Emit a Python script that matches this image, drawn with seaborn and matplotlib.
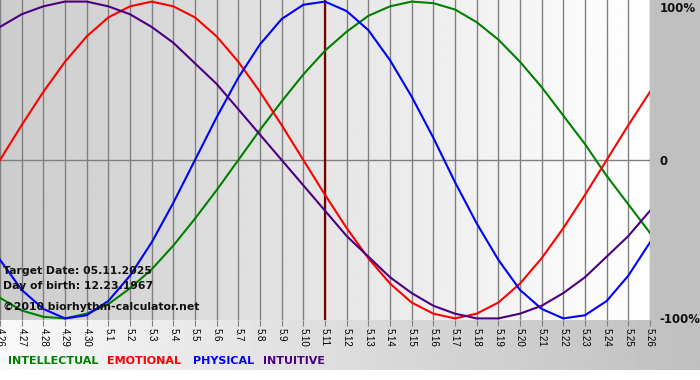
import matplotlib
matplotlib.use("Agg")
import matplotlib.pyplot as plt
import numpy as np
import pandas as pd
import seaborn as sns

# Days shown on the x axis (month.day)
days = ['4.26', '4.27', '4.28', '4.29', '4.30', '5.1', '5.2', '5.3', '5.4', '5.5',
        '5.6', '5.7', '5.8', '5.9', '5.10', '5.11', '5.12', '5.13', '5.14', '5.15',
        '5.16', '5.17', '5.18', '5.19', '5.20', '5.21', '5.22', '5.23', '5.24', '5.25', '5.26']
target_day = '5.11'

# Cycle values per day (-1 .. 1)
intellectual = [-0.87, -0.95, -0.99, -1.00, -0.97, -0.91, -0.81, -0.69, -0.54, -0.37, -0.19,
                0.00, 0.19, 0.37, 0.54, 0.69, 0.81, 0.91, 0.97, 1.00, 0.99, 0.95, 0.87,
                0.76, 0.62, 0.46, 0.28, 0.10, -0.10, -0.28, -0.46]
emotional = [0.00, 0.22, 0.43, 0.62, 0.78, 0.90, 0.97, 1.00, 0.97, 0.90, 0.78, 0.62, 0.43,
             0.22, 0.00, -0.22, -0.43, -0.62, -0.78, -0.90, -0.97, -1.00, -0.97, -0.90,
             -0.78, -0.62, -0.43, -0.22, 0.00, 0.22, 0.43]
physical = [-0.63, -0.82, -0.94, -1.00, -0.98, -0.89, -0.73, -0.52, -0.27, 0.00, 0.27, 0.52,
            0.73, 0.89, 0.98, 1.00, 0.94, 0.82, 0.63, 0.40, 0.14, -0.14, -0.40, -0.63,
            -0.82, -0.94, -1.00, -0.98, -0.89, -0.73, -0.52]
intuitive = [0.84, 0.92, 0.97, 1.00, 1.00, 0.97, 0.92, 0.84, 0.74, 0.61, 0.48, 0.32, 0.16,
             0.00, -0.16, -0.32, -0.48, -0.61, -0.74, -0.84, -0.92, -0.97, -1.00, -1.00,
             -0.97, -0.92, -0.84, -0.74, -0.61, -0.48, -0.32]

series_names = ['INTELLECTUAL', 'EMOTIONAL', 'PHYSICAL', 'INTUITIVE']
colors = {'INTELLECTUAL': '#008000', 'EMOTIONAL': '#ff0000',
          'PHYSICAL': '#0000ff', 'INTUITIVE': '#4b0082'}

ytick_values = [1, 0, -1]
ytick_labels = ['100%', '0', '-100%']

info_lines = ['Target Date: 05.11.2025', 'Day of birth: 12.23.1967',
              '\u00a92010 biorhythm-calculator.net']

# long format table for seaborn
pos = np.arange(len(days))
df = pd.concat([
    pd.DataFrame({'day': pos, 'value': vals, 'cycle': name})
    for name, vals in zip(series_names, [intellectual, emotional, physical, intuitive])
])

W, H = 700, 380
fig = plt.figure(figsize=(W / 100, H / 100), dpi=100, facecolor='white')

# background panels (pixel coordinates)
bg = fig.add_axes([0, 0, 1, 1])
bg.set_xlim(0, W)
bg.set_ylim(H, 0)
bg.axis('off')
strip = np.linspace(0.975, 0.75, 256).reshape(1, -1)
bg.imshow(strip, cmap='gray', vmin=0, vmax=1, aspect='auto',
          extent=(0, W, 370, 320), interpolation='bilinear')
bg.add_patch(plt.Rectangle((650, 0), 50, 320, color='#c0c0c0', lw=0))

ax = fig.add_axes([0, 60 / H, 650 / W, 320 / H])
grad = np.linspace(0.80, 1.0, 256).reshape(1, -1)
ax.imshow(grad, cmap='gray', vmin=0, vmax=1, aspect='auto',
          extent=(0, len(days) - 1, -1.01, 1.01), interpolation='bilinear', zorder=0)

for x in pos:
    ax.axvline(x, color='#808080', lw=1, zorder=1)
ax.axhline(0, color='#808080', lw=1, zorder=1)
ax.axvline(days.index(target_day), color='#7a0000', lw=1.6, zorder=2)

sns.lineplot(data=df, x='day', y='value', hue='cycle', palette=colors,
             hue_order=series_names, lw=1.5, legend=False, ax=ax, zorder=3)

ax.set_xlim(0, len(days) - 1)
ax.set_ylim(-1.01, 1.01)
for s in ax.spines.values():
    s.set_visible(False)
ax.set_xlabel('')
ax.set_ylabel('')

ax.set_xticks(pos)
ax.set_xticklabels(days, rotation=-90, fontsize=7, family='Liberation Sans', color='black')
ax.tick_params(axis='x', length=4, color='#808080', pad=2)

ax.yaxis.tick_right()
ax.set_yticks(ytick_values)
ax.set_yticklabels(ytick_labels, fontsize=8.5, fontweight='bold', color='#101010')
ax.tick_params(axis='y', length=0, pad=7)
ax.get_yticklabels()[0].set_va('top')

for i, line in enumerate(info_lines):
    y = [271, 286, 307][i]
    fig.text(3 / W, 1 - y / H, line, fontsize=7.8, fontweight='bold',
             va='center', ha='left', color='#101010')

legend_x = [8, 107, 193, 263]
for name, x in zip(series_names, legend_x):
    fig.text(x / W, 1 - 361 / H, name, fontsize=8, fontweight='bold',
             color=colors[name], va='center', ha='left')

fig.savefig('out.png', dpi=100)
